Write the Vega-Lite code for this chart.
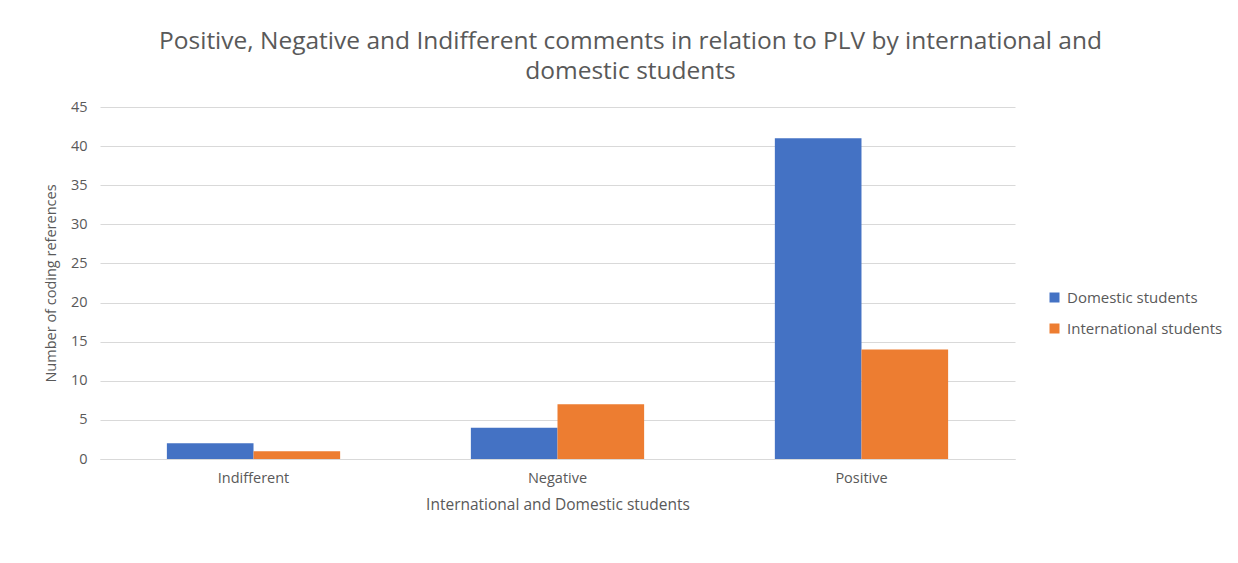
{
  "$schema": "https://vega.github.io/schema/vega-lite/v6.json",
  "autosize": "none",
  "width": 915,
  "height": 352,
  "padding": {"left": 100, "top": 107, "right": 223, "bottom": 104},
  "background": "white",
  "title": {
    "text": ["Positive, Negative and Indifferent comments in relation to PLV by international and", "domestic students"],
    "font": "Open Sans",
    "fontSize": 24.5,
    "fontWeight": "normal",
    "color": "#595959",
    "anchor": "middle",
    "dx": 73,
    "offset": 15,
    "lineHeight": 30
  },
  "data": {
    "values": [
      {"sentiment": "Indifferent", "group": "Domestic students", "count": 2},
      {"sentiment": "Indifferent", "group": "International students", "count": 1},
      {"sentiment": "Negative", "group": "Domestic students", "count": 4},
      {"sentiment": "Negative", "group": "International students", "count": 7},
      {"sentiment": "Positive", "group": "Domestic students", "count": 41},
      {"sentiment": "Positive", "group": "International students", "count": 14}
    ]
  },
  "mark": {"type": "bar"},
  "encoding": {
    "x": {
      "field": "sentiment",
      "type": "nominal",
      "sort": ["Indifferent", "Negative", "Positive"],
      "scale": {"paddingInner": 0.43, "paddingOuter": 0.22},
      "axis": {
        "title": "International and Domestic students",
        "labelAngle": 0,
        "labelFont": "Open Sans",
        "labelFontSize": 14.5,
        "labelColor": "#595959",
        "titleFont": "Open Sans",
        "titleFontSize": 15.5,
        "titleFontWeight": "normal",
        "titleColor": "#595959",
        "domainColor": "#d9d9d9",
        "ticks": false,
        "labelPadding": 12,
        "titlePadding": 13
      }
    },
    "xOffset": {"field": "group", "type": "nominal"},
    "y": {
      "field": "count",
      "type": "quantitative",
      "scale": {"domain": [0, 45]},
      "axis": {
        "title": "Number of coding references",
        "values": [0, 5, 10, 15, 20, 25, 30, 35, 40, 45],
        "labelFont": "Open Sans",
        "labelFontSize": 14.5,
        "labelColor": "#595959",
        "titleFont": "Open Sans",
        "titleFontSize": 14.5,
        "titleFontWeight": "normal",
        "titleColor": "#595959",
        "domain": false,
        "ticks": false,
        "gridColor": "#d9d9d9",
        "labelPadding": 13,
        "titlePadding": 12
      }
    },
    "color": {
      "field": "group",
      "type": "nominal",
      "scale": {"domain": ["Domestic students", "International students"], "range": ["#4472C4", "#ED7D31"]},
      "legend": {
        "title": null,
        "orient": "none",
        "legendX": 947,
        "legendY": 183,
        "symbolType": "square",
        "symbolSize": 100,
        "symbolStrokeWidth": 0,
        "labelFont": "Open Sans",
        "labelFontSize": 15,
        "labelColor": "#595959",
        "rowPadding": 15,
        "labelOffset": 5
      }
    }
  },
  "config": {"view": {"stroke": null}}
}
